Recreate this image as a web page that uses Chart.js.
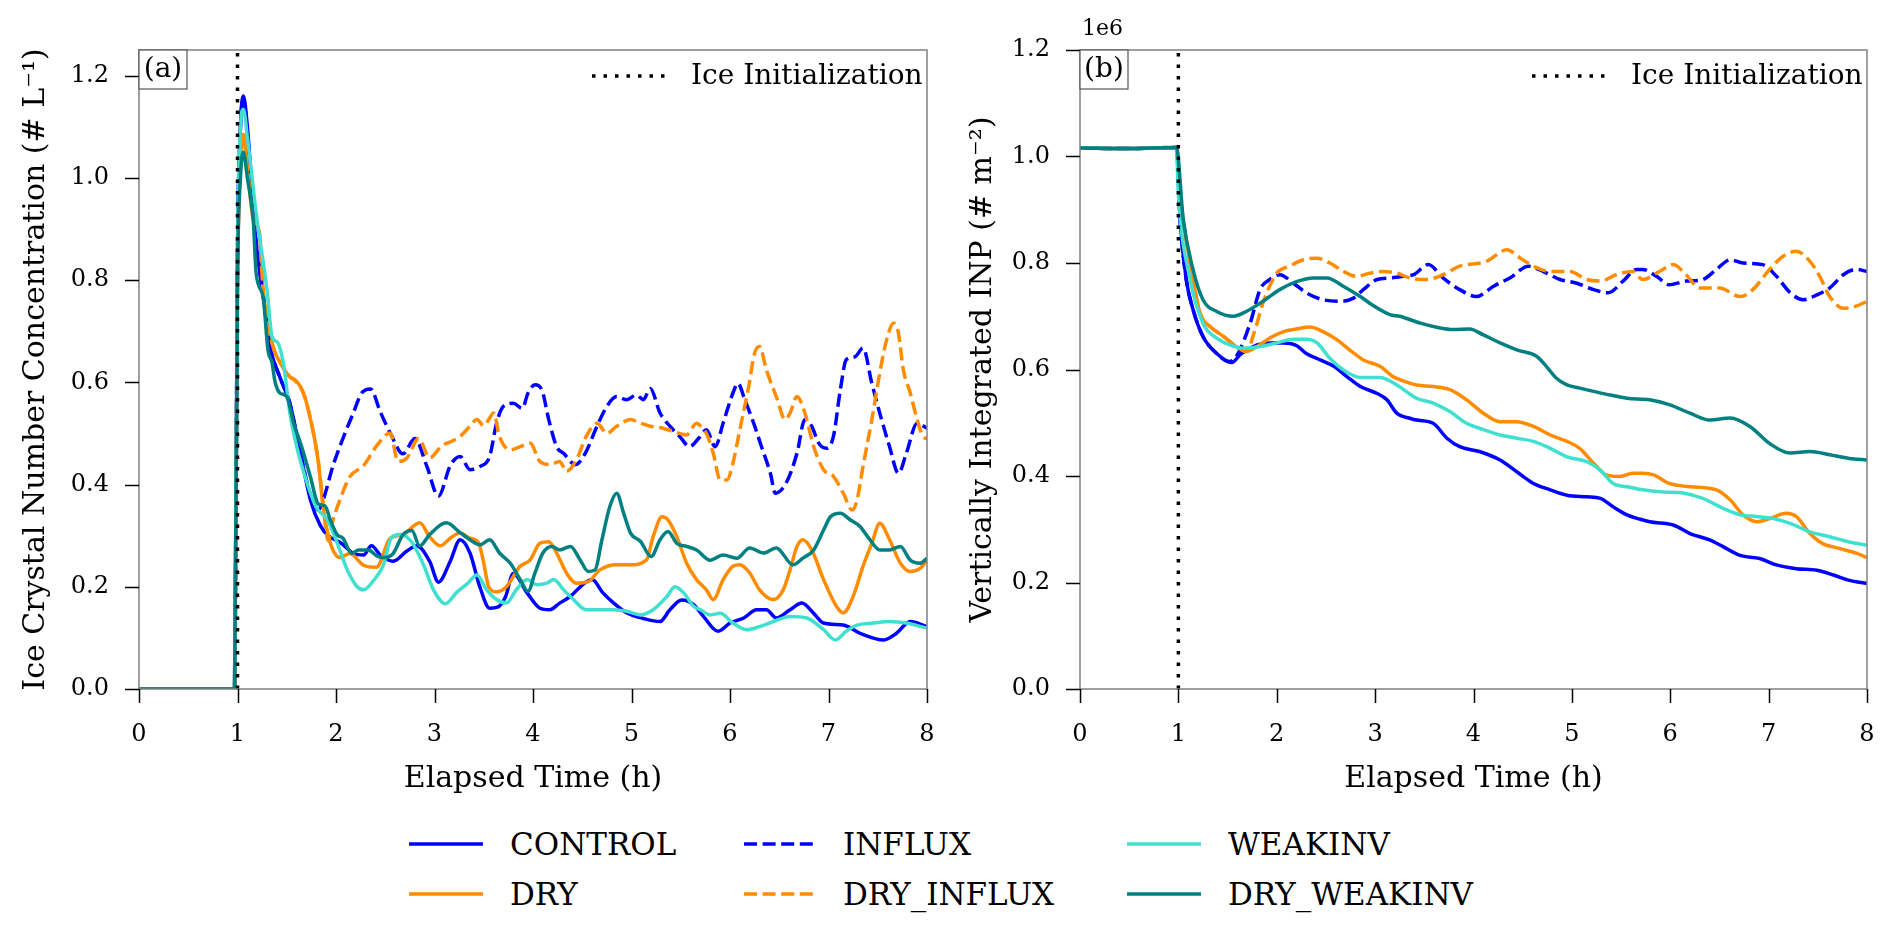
<!DOCTYPE html>
<html>
<head>
<meta charset="utf-8">
<title>Ice crystal number and integrated INP</title>
<script src="https://cdn.jsdelivr.net/npm/chart.js@4.4.1/dist/chart.umd.min.js"></script>
<style>
  html, body { margin: 0; padding: 0; background: #fff; }
  #page { position: relative; width: 1892px; height: 930px; overflow: hidden; font-family: 'DejaVu Serif', serif; }
  #page canvas { position: absolute; top: 0; }
  #chartA { left: 0; }
  #chartB { left: 946px; }
  .legend-item { position: absolute; height: 40px; display: flex; align-items: center; }
  .legend-item span { font-size: 31px; line-height: 1; color: #000; white-space: nowrap; }
</style>
</head>
<body>
<div id="page">
  <canvas id="chartA" width="946" height="800"></canvas>
  <canvas id="chartB" width="946" height="800"></canvas>
  <div id="legend"></div>
</div>
<script>
// ---- data: [elapsed time (h), value] ----
const seriesNames = ['CONTROL', 'DRY', 'INFLUX', 'DRY_INFLUX', 'WEAKINV', 'DRY_WEAKINV'];
const xTickValues = [0, 1, 2, 3, 4, 5, 6, 7, 8];
const leftTickValues = [0, 0.2, 0.4, 0.6, 0.8, 1.0, 1.2];
const rightTickValues = [0, 0.2, 0.4, 0.6, 0.8, 1.0, 1.2];
const iceInitTime = 1;

// (a) ice crystal number concentration, # L^-1
const icncControl = [[0,0],[0.97,0],[1.0,0.85],[1.03,1.10],[1.06,1.16],[1.1,1.10],[1.18,0.89],[1.26,0.77],[1.33,0.67],[1.43,0.61],[1.53,0.56],[1.63,0.47],[1.74,0.37],[1.84,0.32],[1.92,0.30],[2.04,0.287],[2.18,0.265],[2.28,0.262],[2.36,0.28],[2.45,0.262],[2.58,0.25],[2.72,0.27],[2.82,0.28],[2.95,0.25],[3.04,0.209],[3.16,0.25],[3.26,0.292],[3.36,0.266],[3.46,0.20],[3.56,0.158],[3.64,0.16],[3.72,0.18],[3.80,0.226],[3.94,0.188],[4.07,0.158],[4.17,0.155],[4.27,0.168],[4.38,0.181],[4.48,0.20],[4.60,0.214],[4.71,0.188],[4.82,0.168],[4.95,0.149],[5.12,0.138],[5.29,0.132],[5.39,0.155],[5.51,0.174],[5.63,0.165],[5.73,0.142],[5.88,0.113],[6.0,0.129],[6.14,0.139],[6.27,0.155],[6.37,0.155],[6.47,0.139],[6.61,0.155],[6.73,0.168],[6.85,0.148],[6.95,0.129],[7.15,0.125],[7.32,0.109],[7.56,0.096],[7.69,0.109],[7.83,0.132],[8.0,0.122]];
const icncDry = [[0,0],[0.97,0],[1.0,0.8],[1.03,1.03],[1.06,1.085],[1.1,1.02],[1.16,0.92],[1.22,0.895],[1.26,0.78],[1.36,0.67],[1.43,0.64],[1.52,0.613],[1.60,0.602],[1.67,0.579],[1.75,0.52],[1.82,0.445],[1.87,0.355],[1.94,0.287],[2.04,0.257],[2.14,0.265],[2.28,0.242],[2.41,0.238],[2.55,0.295],[2.68,0.302],[2.85,0.325],[2.95,0.298],[3.06,0.28],[3.16,0.295],[3.26,0.305],[3.36,0.295],[3.45,0.285],[3.50,0.246],[3.55,0.20],[3.63,0.19],[3.73,0.20],[3.87,0.24],[3.97,0.252],[4.07,0.285],[4.16,0.288],[4.24,0.266],[4.34,0.227],[4.44,0.207],[4.56,0.21],[4.68,0.233],[4.85,0.243],[4.99,0.243],[5.15,0.252],[5.22,0.298],[5.31,0.337],[5.37,0.331],[5.46,0.298],[5.56,0.246],[5.66,0.214],[5.76,0.194],[5.83,0.175],[5.93,0.214],[6.03,0.24],[6.10,0.243],[6.20,0.227],[6.30,0.194],[6.44,0.175],[6.54,0.194],[6.61,0.233],[6.68,0.279],[6.74,0.292],[6.83,0.272],[6.95,0.214],[7.08,0.162],[7.15,0.149],[7.25,0.181],[7.35,0.24],[7.44,0.285],[7.52,0.324],[7.62,0.292],[7.73,0.246],[7.83,0.23],[7.93,0.236],[8.0,0.252]];
const icncInflux = [[0,0],[0.97,0],[1.0,0.85],[1.03,1.10],[1.06,1.15],[1.1,1.09],[1.18,0.89],[1.26,0.77],[1.33,0.67],[1.43,0.61],[1.53,0.56],[1.63,0.47],[1.74,0.38],[1.82,0.35],[1.87,0.37],[1.97,0.437],[2.07,0.49],[2.18,0.542],[2.26,0.579],[2.35,0.587],[2.45,0.542],[2.55,0.501],[2.68,0.46],[2.80,0.49],[2.92,0.437],[3.04,0.377],[3.16,0.437],[3.26,0.455],[3.36,0.429],[3.46,0.435],[3.56,0.455],[3.63,0.52],[3.70,0.553],[3.80,0.559],[3.89,0.549],[3.95,0.579],[4.02,0.595],[4.09,0.585],[4.16,0.527],[4.24,0.474],[4.31,0.461],[4.43,0.439],[4.53,0.461],[4.65,0.514],[4.75,0.553],[4.85,0.572],[4.95,0.566],[5.05,0.575],[5.12,0.566],[5.19,0.588],[5.29,0.54],[5.39,0.514],[5.49,0.494],[5.59,0.474],[5.68,0.49],[5.76,0.507],[5.85,0.474],[5.93,0.52],[6.03,0.579],[6.08,0.598],[6.15,0.566],[6.24,0.52],[6.32,0.474],[6.41,0.422],[6.46,0.383],[6.57,0.403],[6.68,0.461],[6.76,0.527],[6.83,0.514],[6.90,0.481],[6.98,0.471],[7.05,0.494],[7.12,0.585],[7.18,0.644],[7.27,0.65],[7.35,0.667],[7.44,0.598],[7.52,0.54],[7.62,0.474],[7.71,0.422],[7.79,0.461],[7.90,0.52],[8.0,0.51]];
const icncDryInflux = [[0,0],[0.97,0],[1.0,0.8],[1.03,1.03],[1.06,1.08],[1.1,1.02],[1.16,0.92],[1.22,0.895],[1.26,0.78],[1.36,0.67],[1.43,0.64],[1.52,0.613],[1.60,0.60],[1.67,0.578],[1.75,0.52],[1.82,0.445],[1.87,0.36],[1.92,0.29],[1.97,0.33],[2.04,0.37],[2.14,0.415],[2.28,0.437],[2.41,0.475],[2.55,0.501],[2.63,0.445],[2.72,0.452],[2.84,0.49],[2.95,0.452],[3.07,0.475],[3.19,0.486],[3.26,0.494],[3.36,0.514],[3.43,0.527],[3.50,0.515],[3.56,0.53],[3.60,0.54],[3.66,0.494],[3.77,0.468],[3.87,0.474],[3.97,0.481],[4.07,0.445],[4.17,0.439],[4.27,0.445],[4.34,0.426],[4.44,0.448],[4.54,0.494],[4.65,0.52],[4.75,0.50],[4.85,0.514],[4.99,0.527],[5.09,0.52],[5.19,0.514],[5.32,0.51],[5.42,0.504],[5.56,0.497],[5.66,0.52],[5.72,0.51],[5.76,0.50],[5.83,0.461],[5.90,0.409],[5.97,0.409],[6.03,0.442],[6.10,0.507],[6.19,0.592],[6.25,0.657],[6.30,0.67],[6.37,0.624],[6.47,0.572],[6.56,0.527],[6.61,0.54],[6.68,0.572],[6.76,0.54],[6.85,0.474],[6.95,0.429],[7.05,0.416],[7.15,0.383],[7.24,0.35],[7.29,0.37],[7.35,0.435],[7.44,0.527],[7.52,0.618],[7.59,0.683],[7.66,0.716],[7.71,0.696],[7.76,0.624],[7.83,0.579],[7.90,0.527],[7.96,0.494],[8.0,0.49]];
const icncWeakinv = [[0,0],[0.97,0],[1.0,0.85],[1.03,1.10],[1.06,1.134],[1.1,1.08],[1.19,0.93],[1.30,0.78],[1.35,0.69],[1.41,0.677],[1.47,0.632],[1.53,0.542],[1.60,0.475],[1.70,0.407],[1.80,0.355],[1.91,0.332],[2.01,0.287],[2.11,0.235],[2.21,0.201],[2.28,0.194],[2.38,0.212],[2.48,0.242],[2.56,0.295],[2.65,0.302],[2.77,0.287],[2.89,0.242],[2.99,0.194],[3.11,0.167],[3.23,0.19],[3.34,0.207],[3.43,0.223],[3.53,0.194],[3.63,0.175],[3.73,0.168],[3.83,0.194],[3.94,0.214],[4.04,0.204],[4.14,0.207],[4.21,0.214],[4.31,0.194],[4.41,0.175],[4.54,0.155],[4.68,0.155],[4.82,0.155],[4.95,0.152],[5.09,0.145],[5.22,0.155],[5.36,0.181],[5.44,0.20],[5.53,0.188],[5.63,0.162],[5.70,0.155],[5.80,0.145],[5.90,0.148],[6.03,0.129],[6.17,0.116],[6.30,0.122],[6.44,0.132],[6.61,0.142],[6.78,0.139],[6.95,0.116],[7.07,0.096],[7.18,0.113],[7.29,0.125],[7.46,0.129],[7.62,0.132],[7.79,0.129],[8.0,0.119]];
const icncDryWeakinv = [[0,0],[0.97,0],[1.0,0.8],[1.03,1.0],[1.06,1.05],[1.1,1.0],[1.16,0.916],[1.19,0.812],[1.26,0.767],[1.31,0.662],[1.35,0.639],[1.38,0.602],[1.43,0.579],[1.50,0.572],[1.57,0.52],[1.65,0.475],[1.74,0.415],[1.82,0.362],[1.89,0.358],[1.94,0.332],[2.01,0.302],[2.07,0.295],[2.16,0.265],[2.23,0.272],[2.33,0.272],[2.41,0.261],[2.48,0.257],[2.58,0.265],[2.68,0.302],[2.77,0.31],[2.85,0.28],[2.95,0.302],[3.12,0.325],[3.26,0.306],[3.36,0.292],[3.46,0.282],[3.56,0.292],[3.66,0.266],[3.77,0.246],[3.87,0.214],[3.95,0.191],[4.02,0.227],[4.10,0.266],[4.19,0.279],[4.27,0.272],[4.38,0.279],[4.48,0.252],[4.56,0.23],[4.63,0.233],[4.70,0.292],[4.78,0.357],[4.85,0.383],[4.92,0.344],[4.99,0.305],[5.09,0.289],[5.20,0.259],[5.29,0.292],[5.37,0.308],[5.46,0.285],[5.56,0.279],[5.66,0.272],[5.80,0.252],[5.93,0.262],[6.07,0.256],[6.20,0.276],[6.34,0.266],[6.47,0.276],[6.64,0.243],[6.74,0.256],[6.85,0.272],[6.95,0.311],[7.02,0.337],[7.12,0.344],[7.22,0.331],[7.32,0.318],[7.42,0.292],[7.52,0.272],[7.62,0.272],[7.73,0.279],[7.83,0.252],[7.93,0.246],[8.0,0.256]];

// (b) vertically integrated INP, # m^-2, in units of 1e6
const inpControl = [[0,1.016],[0.5,1.015],[0.98,1.017],[1.02,0.875],[1.08,0.769],[1.15,0.712],[1.25,0.662],[1.39,0.63],[1.54,0.613],[1.64,0.63],[1.80,0.646],[1.93,0.65],[2.07,0.65],[2.20,0.645],[2.30,0.63],[2.44,0.618],[2.58,0.606],[2.71,0.587],[2.85,0.568],[3.02,0.555],[3.12,0.543],[3.22,0.518],[3.36,0.508],[3.42,0.505],[3.59,0.499],[3.73,0.471],[3.86,0.455],[4.06,0.446],[4.27,0.43],[4.44,0.408],[4.61,0.386],[4.78,0.374],[4.95,0.364],[5.15,0.361],[5.29,0.358],[5.42,0.342],[5.56,0.327],[5.69,0.319],[5.79,0.314],[6.03,0.308],[6.20,0.292],[6.40,0.28],[6.54,0.267],[6.71,0.251],[6.91,0.245],[7.08,0.233],[7.28,0.226],[7.49,0.223],[7.66,0.214],[7.82,0.204],[8.0,0.198]];
const inpDry = [[0,1.016],[0.5,1.015],[0.98,1.017],[1.02,0.925],[1.12,0.80],[1.22,0.706],[1.32,0.681],[1.46,0.662],[1.59,0.643],[1.69,0.634],[1.80,0.643],[1.93,0.659],[2.07,0.671],[2.20,0.676],[2.34,0.68],[2.47,0.671],[2.61,0.656],[2.74,0.637],[2.88,0.618],[3.05,0.606],[3.18,0.587],[3.25,0.581],[3.42,0.571],[3.59,0.568],[3.76,0.562],[3.93,0.543],[4.10,0.518],[4.27,0.502],[4.44,0.502],[4.61,0.493],[4.78,0.477],[4.95,0.465],[5.08,0.452],[5.22,0.424],[5.35,0.402],[5.49,0.399],[5.62,0.405],[5.72,0.405],[5.83,0.402],[5.99,0.386],[6.20,0.38],[6.47,0.374],[6.61,0.355],[6.74,0.327],[6.88,0.314],[7.01,0.32],[7.18,0.33],[7.28,0.324],[7.42,0.292],[7.55,0.273],[7.72,0.264],[7.89,0.255],[8.0,0.247]];
const inpInflux = [[0,1.016],[0.5,1.015],[0.98,1.017],[1.02,0.875],[1.08,0.769],[1.15,0.712],[1.25,0.662],[1.39,0.63],[1.52,0.615],[1.59,0.625],[1.73,0.687],[1.83,0.75],[1.93,0.769],[2.03,0.778],[2.17,0.762],[2.30,0.744],[2.47,0.731],[2.64,0.728],[2.78,0.734],[2.88,0.75],[3.02,0.769],[3.15,0.772],[3.29,0.775],[3.39,0.778],[3.54,0.797],[3.69,0.772],[3.86,0.75],[4.03,0.737],[4.20,0.756],[4.37,0.772],[4.56,0.794],[4.71,0.784],[4.88,0.769],[5.05,0.762],[5.22,0.75],[5.37,0.744],[5.52,0.766],[5.66,0.788],[5.72,0.788],[5.86,0.775],[5.99,0.759],[6.16,0.766],[6.33,0.769],[6.47,0.788],[6.61,0.806],[6.74,0.80],[6.94,0.797],[7.08,0.775],[7.22,0.744],[7.35,0.731],[7.49,0.74],[7.62,0.753],[7.76,0.778],[7.89,0.788],[8.0,0.784]];
const inpDryInflux = [[0,1.016],[0.5,1.015],[0.98,1.017],[1.02,0.925],[1.12,0.80],[1.22,0.706],[1.32,0.681],[1.46,0.662],[1.59,0.643],[1.69,0.634],[1.78,0.675],[1.86,0.725],[2.0,0.781],[2.13,0.794],[2.27,0.806],[2.41,0.809],[2.54,0.80],[2.68,0.784],[2.81,0.775],[2.95,0.781],[3.08,0.784],[3.22,0.781],[3.35,0.772],[3.52,0.769],[3.69,0.778],[3.86,0.794],[4.13,0.803],[4.34,0.825],[4.47,0.81],[4.61,0.794],[4.78,0.784],[4.98,0.784],[5.15,0.769],[5.29,0.766],[5.45,0.778],[5.62,0.784],[5.72,0.769],[5.89,0.784],[6.03,0.797],[6.16,0.778],[6.30,0.753],[6.50,0.753],[6.71,0.737],[6.84,0.75],[7.01,0.788],[7.15,0.813],[7.28,0.822],[7.42,0.803],[7.52,0.775],[7.62,0.737],[7.76,0.715],[7.89,0.719],[8.0,0.728]];
const inpWeakinv = [[0,1.016],[0.5,1.015],[0.98,1.017],[1.0,0.93],[1.12,0.769],[1.25,0.687],[1.39,0.659],[1.53,0.646],[1.66,0.64],[1.83,0.643],[2.0,0.65],[2.17,0.657],[2.30,0.657],[2.41,0.65],[2.54,0.621],[2.68,0.599],[2.85,0.585],[3.05,0.585],[3.22,0.571],[3.42,0.546],[3.59,0.537],[3.76,0.521],[3.93,0.499],[4.10,0.487],[4.27,0.477],[4.44,0.471],[4.61,0.465],[4.78,0.452],[4.95,0.436],[5.15,0.427],[5.29,0.411],[5.42,0.386],[5.59,0.379],[5.72,0.374],[5.93,0.37],[6.13,0.368],[6.33,0.358],[6.54,0.339],[6.71,0.327],[6.88,0.324],[7.05,0.32],[7.22,0.311],[7.42,0.295],[7.62,0.286],[7.82,0.276],[8.0,0.27]];
const inpDryWeakinv = [[0,1.016],[0.5,1.015],[0.98,1.017],[1.05,0.881],[1.15,0.787],[1.25,0.731],[1.39,0.709],[1.56,0.70],[1.69,0.709],[1.86,0.728],[2.03,0.75],[2.20,0.765],[2.37,0.772],[2.51,0.772],[2.68,0.756],[2.85,0.737],[2.98,0.72],[3.15,0.703],[3.25,0.70],[3.46,0.687],[3.66,0.678],[3.79,0.675],[3.96,0.676],[4.10,0.665],[4.27,0.65],[4.44,0.637],[4.64,0.625],[4.74,0.606],[4.84,0.584],[4.95,0.571],[5.08,0.565],[5.22,0.559],[5.39,0.552],[5.56,0.546],[5.79,0.543],[5.99,0.534],[6.20,0.518],[6.40,0.505],[6.61,0.509],[6.81,0.493],[7.01,0.461],[7.22,0.443],[7.42,0.446],[7.62,0.44],[7.82,0.433],[8.0,0.43]];

// ---- styling ----
const seriesColors = ['#0000ff', '#ff8c00', '#0000ff', '#ff8c00', '#40e0d0', '#008080'];
const seriesDashed = [false, false, true, true, false, false];
const DASH = [13, 5.6];
const DOT = [3.5, 8];
const FONT = 'DejaVu Serif';
const TICK_LEN = 14;

Chart.defaults.font.family = FONT;
Chart.defaults.color = '#000';

// frame, outward tick marks, panel letter, "Ice Initialization" key and offset text
const panelDecor = {
  id: 'panelDecor',
  afterDatasetsDraw(chart, args, opts) {
    const { ctx, chartArea: { left, top, right, bottom }, scales } = chart;
    ctx.save();
    ctx.strokeStyle = '#808080';
    ctx.lineWidth = 1.5;
    ctx.strokeRect(left, top, right - left, bottom - top);

    // tick marks at the library's tick positions
    ctx.strokeStyle = '#000';
    ctx.lineWidth = 1.5;
    ctx.beginPath();
    scales.x.ticks.forEach(t => {
      const px = Math.round(scales.x.getPixelForValue(t.value)) + 0.5;
      ctx.moveTo(px, bottom);
      ctx.lineTo(px, bottom + TICK_LEN);
    });
    scales.y.ticks.forEach(t => {
      const py = Math.round(scales.y.getPixelForValue(t.value)) + 0.5;
      ctx.moveTo(left - TICK_LEN, py);
      ctx.lineTo(left, py);
    });
    ctx.stroke();

    // panel letter box
    ctx.fillStyle = '#fff';
    ctx.fillRect(left, top, 48, 39);
    ctx.strokeStyle = '#555';
    ctx.lineWidth = 1.2;
    ctx.strokeRect(left, top, 48, 39);
    ctx.fillStyle = '#000';
    ctx.font = `28px "${FONT}"`;
    ctx.textAlign = 'center';
    ctx.textBaseline = 'middle';
    ctx.fillText(opts.letter, left + 24, top + 20);

    // legend entry for the dotted line
    ctx.strokeStyle = '#000';
    ctx.lineWidth = 3.5;
    ctx.setLineDash(DOT);
    ctx.beginPath();
    ctx.moveTo(right - 335, top + 26);
    ctx.lineTo(right - 262, top + 26);
    ctx.stroke();
    ctx.setLineDash([]);
    ctx.textAlign = 'left';
    ctx.fillText('Ice Initialization', right - 236, top + 27);

    if (opts.offsetText) {
      ctx.font = `22px "${FONT}"`;
      ctx.fillText(opts.offsetText, left + 2, top - 21);
    }
    ctx.restore();
  }
};

function buildDatasets(seriesList, yTop) {
  const sets = seriesList.map((pairs, i) => ({
    label: seriesNames[i],
    data: pairs.map(([x, y]) => ({ x, y })),
    borderColor: seriesColors[i],
    borderWidth: 3.5,
    borderDash: seriesDashed[i] ? DASH : [],
    pointRadius: 0,
    fill: false,
    cubicInterpolationMode: 'monotone'
  }));
  sets.push({
    label: 'Ice Initialization',
    data: [{ x: iceInitTime, y: 0 }, { x: iceInitTime, y: yTop }],
    borderColor: '#000',
    borderWidth: 3.5,
    borderDash: DOT,
    pointRadius: 0,
    fill: false
  });
  // Chart.js paints the first dataset last, so reverse to keep matplotlib's stacking
  return sets.reverse();
}

function makePanel(canvasId, cfg) {
  const ctx = document.getElementById(canvasId).getContext('2d');
  return new Chart(ctx, {
    type: 'line',
    data: { datasets: buildDatasets(cfg.series, cfg.yMax) },
    plugins: [panelDecor],
    options: {
      responsive: false,
      animation: false,
      devicePixelRatio: 1,
      layout: { padding: { left: 0, top: 50, right: cfg.padRight, bottom: 0 } },
      plugins: {
        legend: { display: false },
        tooltip: { enabled: false },
        panelDecor: { letter: cfg.letter, offsetText: cfg.offsetText }
      },
      scales: {
        x: {
          type: 'linear',
          min: 0,
          max: 8,
          afterBuildTicks: axis => { axis.ticks = xTickValues.map(v => ({ value: v })); },
          afterFit: axis => { axis.height = 800 - 689; },
          ticks: {
            autoSkip: false,
            maxRotation: 0,
            padding: 3,
            color: '#000',
            font: { size: 24 },
            callback: v => String(v)
          },
          // marks are painted by panelDecor; tickLength only spaces the labels
          grid: { display: false, drawTicks: true, tickLength: 28 },
          border: { display: false },
          title: { display: true, text: 'Elapsed Time (h)', color: '#000', font: { size: 30 }, padding: { top: 0, bottom: 3 } }
        },
        y: {
          type: 'linear',
          min: 0,
          max: cfg.yMax,
          afterBuildTicks: axis => { axis.ticks = cfg.yTicks.map(v => ({ value: v })); },
          afterFit: axis => { axis.width = cfg.yWidth; },
          ticks: {
            padding: 2,
            color: '#000',
            font: { size: 24 },
            callback: v => Number(v).toFixed(1)
          },
          grid: { display: false, drawTicks: true, tickLength: 28 },
          border: { display: false },
          title: { display: true, text: cfg.yTitle, color: '#000', font: { size: 30 }, padding: { top: cfg.yTitlePad, bottom: 0 } }
        }
      }
    }
  });
}

makePanel('chartA', {
  series: [icncControl, icncDry, icncInflux, icncDryInflux, icncWeakinv, icncDryWeakinv],
  yMax: 1.25,
  yTicks: leftTickValues,
  yWidth: 139,
  yTitlePad: 18,
  padRight: 19,
  letter: '(a)',
  yTitle: 'Ice Crystal Number Concentration (# L\u207B\u00B9)'
});

makePanel('chartB', {
  series: [inpControl, inpDry, inpInflux, inpDryInflux, inpWeakinv, inpDryWeakinv],
  yMax: 1.2,
  yTicks: rightTickValues,
  yWidth: 134,
  yTitlePad: 19,
  padRight: 25,
  letter: '(b)',
  offsetText: '1e6',
  yTitle: 'Vertically Integrated INP (# m\u207B\u00B2)'
});

// ---- shared legend below both panels (3 columns, filled column-wise) ----
const legendCols = [[409, 510], [744, 843], [1127, 1228]];
const legendRows = [844, 894];
const legendEl = document.getElementById('legend');
seriesNames.forEach((name, i) => {
  const col = Math.floor(i / 2);
  const row = i % 2;
  const [lineX, textX] = legendCols[col];
  const dash = seriesDashed[i] ? `stroke-dasharray="${DASH.join(' ')}"` : '';
  const item = document.createElement('div');
  item.className = 'legend-item';
  item.style.left = lineX + 'px';
  item.style.top = (legendRows[row] - 20) + 'px';
  item.innerHTML = `
    <svg width="74" height="10" style="display:block">
      <line x1="0" y1="5" x2="74" y2="5" stroke="${seriesColors[i]}" stroke-width="3.5" ${dash}/>
    </svg>
    <span style="margin-left:${textX - lineX - 74}px">${name}</span>
  `;
  legendEl.appendChild(item);
});
</script>
</body>
</html>
